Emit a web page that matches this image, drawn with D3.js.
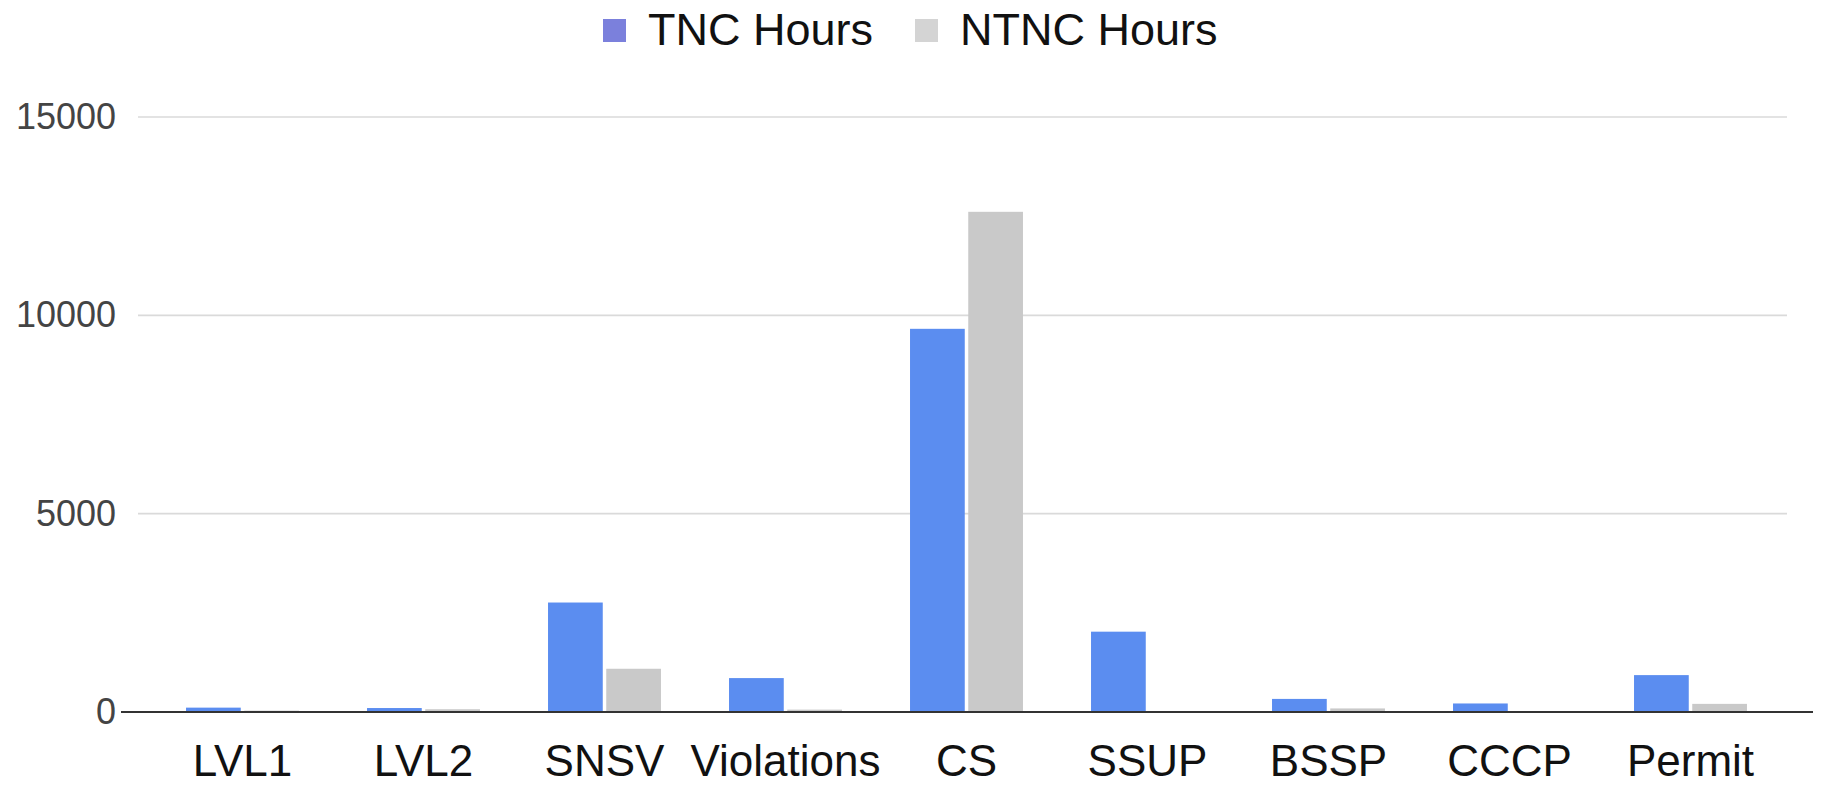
<!DOCTYPE html>
<html>
<head>
<meta charset="utf-8">
<script src="https://cdnjs.cloudflare.com/ajax/libs/d3/7.8.5/d3.min.js"></script>
<style>
  html, body { margin: 0; padding: 0; background: #ffffff; }
  svg { display: block; }
  text { font-family: "Liberation Sans", Arial, sans-serif; }
</style>
</head>
<body>
<svg id="chart" width="1823" height="788"></svg>
<script>
const categories = ["LVL1", "LVL2", "SNSV", "Violations", "CS", "SSUP", "BSSP", "CCCP", "Permit"];
const seriesNames = ["TNC Hours", "NTNC Hours"];
const tncHours  = [110, 100, 2760, 855, 9660, 2025, 330, 215, 930];
const ntncHours = [35, 70, 1090, 60, 12610, 0, 90, 0, 205];
const yTicks = [0, 5000, 10000, 15000];

const W = 1823, H = 788;
const svg = d3.select("#chart");

const barColors = { "TNC Hours": "#5b8df0", "NTNC Hours": "#c9c9c9" };
const legendColors = { "TNC Hours": "#7b80dc", "NTNC Hours": "#d4d4d4" };

const x0 = d3.scaleBand().domain(categories).range([152, 1781]).paddingInner(0.376).paddingOuter(0.188);
const x1 = d3.scaleBand().domain(seriesNames).range([0, x0.bandwidth()]).paddingInner(0.06);
const y = d3.scaleLinear().domain([0, 15000]).range([712, 117]);

// gridlines
svg.append("g")
  .selectAll("line")
  .data(yTicks.filter(t => t > 0))
  .join("line")
  .attr("x1", 138).attr("x2", 1787)
  .attr("y1", d => y(d)).attr("y2", d => y(d))
  .attr("stroke", "#dadada").attr("stroke-width", 1.6);

// y axis labels
const yAxis = d3.axisLeft(y).tickValues(yTicks).tickSize(0).tickPadding(0).tickFormat(d3.format("d"));
const gy = svg.append("g").attr("transform", "translate(116,0)").call(yAxis);
gy.select(".domain").remove();
gy.selectAll("text")
  .attr("font-size", 36)
  .attr("fill", "#444")
  .attr("font-family", "'Liberation Sans', Arial, sans-serif");

// bars
const data = categories.map((c, i) => ({ cat: c, values: [
  { key: "TNC Hours", value: tncHours[i] },
  { key: "NTNC Hours", value: ntncHours[i] }
]}));

svg.append("g")
  .selectAll("g")
  .data(data)
  .join("g")
  .attr("transform", d => `translate(${x0(d.cat)},0)`)
  .selectAll("rect")
  .data(d => d.values)
  .join("rect")
  .attr("x", d => x1(d.key))
  .attr("width", x1.bandwidth())
  .attr("y", d => y(d.value))
  .attr("height", d => y(0) - y(d.value))
  .attr("fill", d => barColors[d.key]);

// baseline
svg.append("line")
  .attr("x1", 121).attr("x2", 1813)
  .attr("y1", y(0)).attr("y2", y(0))
  .attr("stroke", "#333").attr("stroke-width", 2);

// x axis labels
const xAxis = d3.axisBottom(x0).tickSize(0).tickPadding(0);
const gx = svg.append("g").attr("transform", "translate(0,776)").call(xAxis);
gx.select(".domain").remove();
gx.selectAll("text")
  .attr("font-size", 44)
  .attr("fill", "#111")
  .attr("dy", "0")
  .attr("y", 0)
  .attr("font-family", "'Liberation Sans', Arial, sans-serif");

// legend
const legendItems = [
  { name: "TNC Hours", sx: 603, tx: 648 },
  { name: "NTNC Hours", sx: 915, tx: 960 }
];
const lg = svg.append("g");
lg.selectAll("rect")
  .data(legendItems)
  .join("rect")
  .attr("x", d => d.sx).attr("y", 19)
  .attr("width", 23).attr("height", 23)
  .attr("fill", d => legendColors[d.name]);
lg.selectAll("text")
  .data(legendItems)
  .join("text")
  .attr("x", d => d.tx).attr("y", 45)
  .attr("font-size", 45)
  .attr("fill", "#111")
  .text(d => d.name);
</script>
</body>
</html>
